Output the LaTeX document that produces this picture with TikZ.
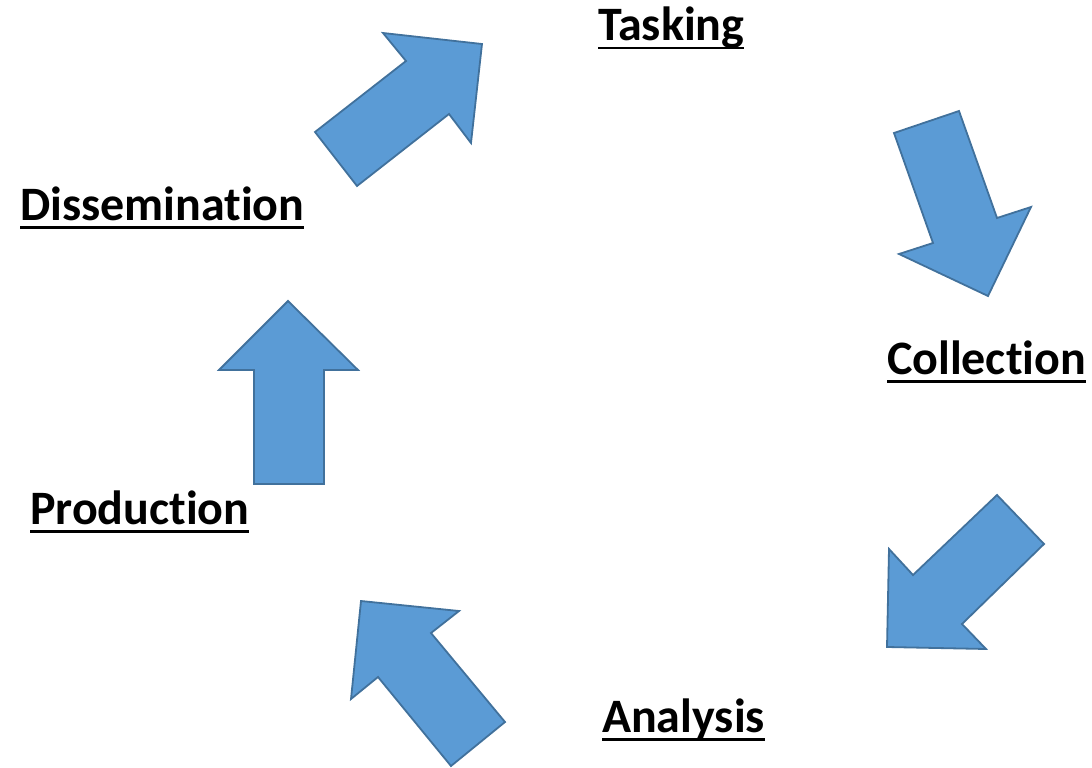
\documentclass[tikz,border=0pt]{standalone}
\usepackage{fontspec}
\setmainfont{Carlito}[Ligatures={NoCommon,NoRare}]
\newsavebox{\stagebox}
\newcommand{\stageuline}[1]{\sbox{\stagebox}{#1}\rlap{\rule[-8.5pt]{\wd\stagebox}{2.6pt}}\usebox{\stagebox}}
\definecolor{arrowfill}{HTML}{5B9BD5}
\definecolor{arrowline}{HTML}{41719C}
\tikzset{
  blockarrow/.style={fill=arrowfill, draw=arrowline, line width=1.8pt, line join=miter},
  stagelabel/.style={anchor=base west, inner sep=0pt, outer sep=0pt,
    font=\fontsize{48}{50}\selectfont\bfseries}
}
\begin{document}
\begin{tikzpicture}[x=1pt, y=-1pt]
\useasboundingbox (0,0) rectangle (1092,768);
% labels
\node[stagelabel] (tasking) at (598,41) {\stageuline{Tasking}};
\node[stagelabel] (dissem) at (20,220) {\stageuline{Dissemination}};
\node[stagelabel] (collect) at (887,374) {\stageuline{Collection}};
\node[stagelabel] (prod) at (30,524) {\stageuline{Production}};
\node[stagelabel] (analysis) at (602,732) {\stageuline{Analysis}};
% arrows
\draw[blockarrow] (315,132) -- (406,61) -- (383,33) -- (482,44) -- (471,143) -- (449,114) -- (357,186) -- cycle;
\draw[blockarrow] (894,133) -- (959,111) -- (997,218) -- (1031,207) -- (988,296) -- (899,254) -- (933,243) -- cycle;
\draw[blockarrow] (997,495) -- (1044,544) -- (962,624) -- (986,649) -- (887,647) -- (889,549) -- (913,575) -- cycle;
\draw[blockarrow] (505,722) -- (451,766) -- (378,677) -- (351,699) -- (361,601) -- (459,611) -- (431,633) -- cycle;
\draw[blockarrow] (288,301) -- (358,370) -- (324,370) -- (324,484) -- (254,484) -- (254,370) -- (219,370) -- cycle;
\end{tikzpicture}
\end{document}
